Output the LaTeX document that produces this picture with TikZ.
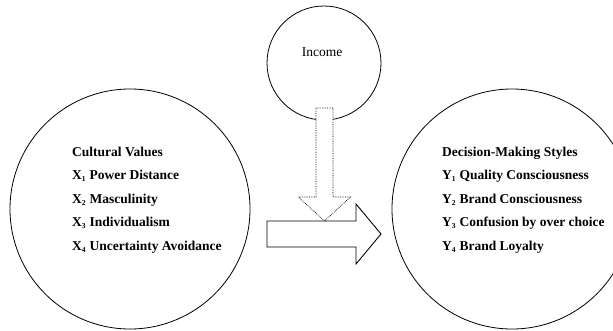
\documentclass[tikz,border=0pt]{standalone}
\usepackage{fontspec}
\setmainfont{Liberation Serif}
\usepackage{tikz}
\usetikzlibrary{arrows.meta, positioning, shapes}
\newcommand{\idx}[1]{\textsubscript{\fontsize{7.5}{8}\selectfont #1}}

\begin{document}
\begin{tikzpicture}[
    x=1pt, y=1pt,
    bubble/.style={circle, draw, line width=0.8pt, inner sep=0pt, minimum size=240pt},
    smallbubble/.style={circle, draw, line width=0.8pt, inner sep=0pt, minimum size=114pt},
    varlist/.style={align=left, anchor=west, inner sep=0pt, font=\fontsize{13.5}{23.5}\selectfont\bfseries},
    hollow/.style={draw, fill=white, line width=0.9pt, line join=miter},
    hollowdot/.style={draw, fill=white, densely dotted, line width=0.7pt}
  ]
    \useasboundingbox (0,0) rectangle (613,330);
    \node[bubble] (culture) at (130,121) {};
    \node[bubble] (styles) at (512,121) {};
    \node[smallbubble] (income) at (324,267) {};
    \node[font=\fontsize{13.5}{16}\selectfont] (incometext) at (322,278) {Income};

    \node[varlist] (xlist) at (72,130) {Cultural Values\\
      X\idx{1} Power Distance\\
      X\idx{2} Masculinity\\
      X\idx{3} Individualism\\
      X\idx{4} Uncertainty Avoidance};
    \node[varlist] (ylist) at (442,130) {Decision-Making Styles\\
      Y\idx{1} Quality Consciousness\\
      Y\idx{2} Brand Consciousness\\
      Y\idx{3} Confusion by over choice\\
      Y\idx{4} Brand Loyalty};

    \coordinate (dtail) at (324.5,222);
    \coordinate (dtip) at (324.5,109);
    \coordinate (stail) at (267,96);
    \coordinate (stip) at (381,96);

    \draw[hollowdot] (dtail) ++(-8.5,0) -- ++(0,-89) -- ++(-17.5,0) -- (dtip)
      -- ++(26,24) -- ++(-17.5,0) -- ++(0,89) -- cycle;
    \draw[hollow] (stail) ++(0,13) -- ++(89,0) -- ++(0,17) -- (stip)
      -- ++(-25,-30) -- ++(0,17) -- ++(-89,0) -- cycle;
  \end{tikzpicture}
\end{document}
